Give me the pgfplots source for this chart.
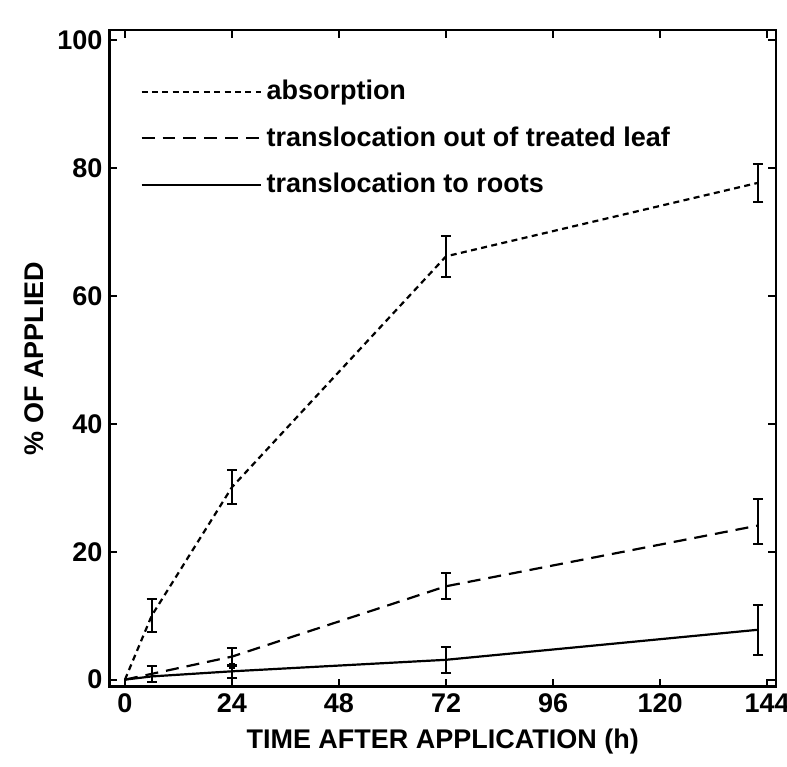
\documentclass[border=0pt]{standalone}
\usepackage{fontspec}
\setmainfont{Liberation Sans}
\usepackage{pgfplots}
\pgfplotsset{compat=1.18}
\begin{document}
\begin{tikzpicture}
\path[use as bounding box] (-54.7pt,-40pt) rectangle (339pt,343.5pt);
\begin{axis}[
  scale only axis, width=333.5pt, height=328.5pt,
  xmin=-3.5, xmax=146, ymin=-1.1, ymax=101.6,
  xtick={0,24,...,144}, ytick={0,20,...,100},
  tick align=inside, major tick length=4pt,
  axis line style={line width=1.4pt},
  every tick/.style={line width=1.1pt, black},
  tick label style={font=\fontsize{13.5}{15}\selectfont\bfseries},
  /pgf/number format/assume math mode=true,
  xlabel={TIME AFTER APPLICATION (h)},
  ylabel={\% OF APPLIED},
  label style={font=\fontsize{13.5}{15}\selectfont\bfseries},
  xlabel style={at={(axis description cs:0.5,-0.083)}, anchor=center},
  ylabel style={at={(axis description cs:-0.1125,0.5)}, anchor=center},
  legend style={at={(axis description cs:0.046,0.93)}, anchor=north west, draw=none, fill=none, inner sep=0pt,
    font=\fontsize{13.5}{15}\selectfont\bfseries, row sep=8pt, cells={anchor=west}},
  legend image code/.code={\draw[#1] (0pt,0pt) -- (60pt,0pt);},
  clip=false,
]
% line plots
\addplot[black, mark=none, line width=1.1pt, dash pattern=on 3pt off 2.2pt] coordinates {(0,0) (6,10) (24,30.1) (72,66.2) (142,77.7)};
\addlegendentry{absorption}
\addplot[black, mark=none, line width=1.1pt, dash pattern=on 6.5pt off 4pt] coordinates {(0,0) (6,0.9) (24,3.6) (72,14.6) (142,24.1)};
\addlegendentry{translocation out of treated leaf}
\addplot[black, mark=none, line width=1.1pt] coordinates {(0,0) (6,0.5) (24,1.3) (72,3.1) (142,7.8)};
\addlegendentry{translocation to roots}
% error bars
\addplot[forget plot, draw=none, mark=none,
  error bars/.cd, y dir=both, y explicit,
  error bar style={draw=black, line width=1pt, solid},
  error mark options={draw=black, rotate=90, mark size=2.6pt, line width=1pt, solid}]
  coordinates {(6,10) +- (0,2.6) (24,30.1) +- (0,2.7) (72,66.2) +- (0,3.2) (142,77.7) +- (0,3.0)};
\addplot[forget plot, draw=none, mark=none,
  error bars/.cd, y dir=both, y explicit,
  error bar style={draw=black, line width=1pt, solid},
  error mark options={draw=black, rotate=90, mark size=2.6pt, line width=1pt, solid}]
  coordinates {(6,0.9) +- (0,1.2) (24,3.6) +- (0,1.4) (72,14.6) +- (0,2.05) (142,24.1) += (0,4.1) -= (0,2.9)};
\addplot[forget plot, draw=none, mark=none,
  error bars/.cd, y dir=both, y explicit,
  error bar style={draw=black, line width=1pt, solid},
  error mark options={draw=black, rotate=90, mark size=2.6pt, line width=1pt, solid}]
  coordinates {(24,1.3) +- (0,1.0) (72,3.1) +- (0,2.0) (142,7.8) +- (0,3.9)};
\addplot[forget plot, only marks, mark=square*, mark size=1.3pt, black] coordinates {(24,2.1)};
\end{axis}
\end{tikzpicture}
\end{document}
